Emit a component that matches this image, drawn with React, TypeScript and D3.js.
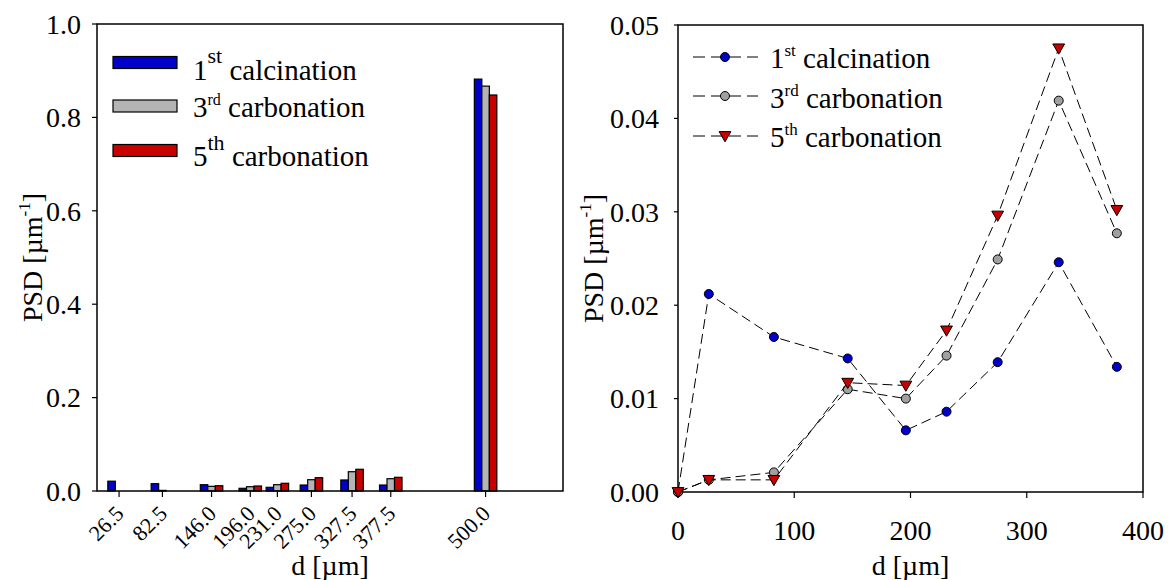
import * as d3 from "d3";

// particle size classes (µm)
const sizes = [26.5, 82.5, 146.0, 196.0, 231.0, 275.0, 327.5, 377.5, 500.0];
const barCalc1 = [0.021, 0.0157, 0.0135, 0.0058, 0.0079, 0.0128, 0.0236, 0.0128, 0.882];
const barCarb3 = [0.0, 0.0013, 0.01, 0.0092, 0.0135, 0.0242, 0.0413, 0.0263, 0.867];
const barCarb5 = [0.0, 0.0, 0.0113, 0.0107, 0.0165, 0.0285, 0.0465, 0.0293, 0.848];

// right panel
const dVals = [0, 26.5, 82.5, 146, 196, 231, 275, 327.5, 377.5];
const psdCalc1 = [0, 0.0212, 0.0166, 0.0143, 0.0066, 0.0086, 0.0139, 0.0246, 0.0134];
const psdCarb3 = [0, 0.0013, 0.0021, 0.011, 0.01, 0.0146, 0.0249, 0.0419, 0.0277];
const psdCarb5 = [0, 0.0013, 0.0013, 0.0117, 0.0114, 0.0173, 0.0296, 0.0475, 0.0302];

const leftTicks = [0, 0.2, 0.4, 0.6, 0.8, 1.0];
const rightYTicks = [0, 0.01, 0.02, 0.03, 0.04, 0.05];
const rightXTicks = [0, 100, 200, 300, 400];

const blue = "#0000c8";
const grey = "#b4b4b4";
const greyDot = "#a0a0a0";
const red = "#c80000";
const serif = { fontFamily: '"Liberation Serif"' };

const series = [
  { name: "1", sup: "st", rest: " calcination", bars: barCalc1, psd: psdCalc1, fill: blue, dot: blue, marker: "circle" },
  { name: "3", sup: "rd", rest: " carbonation", bars: barCarb3, psd: psdCarb3, fill: grey, dot: greyDot, marker: "circle" },
  { name: "5", sup: "th", rest: " carbonation", bars: barCarb5, psd: psdCarb5, fill: red, dot: red, marker: "triangle" },
];

const L = { left: 97, right: 563, top: 24, bottom: 491 };
const R = { left: 678, right: 1143, top: 25, bottom: 492 };

const triangle = d3.symbol(d3.symbolTriangle, 60)() as string;

const Marker = ({ kind, x, y, fill }) =>
  kind === "circle" ? (
    <circle cx={x} cy={y} r={4.5} fill={fill} stroke="#000" strokeWidth={1} />
  ) : (
    <path d={triangle} transform={`translate(${x},${y - 1}) rotate(180)`} fill={fill} stroke="#000" strokeWidth={1} />
  );

const YLabel = ({ x, y }) => (
  <text transform={`translate(${x},${y}) rotate(-90)`} textAnchor="middle" fontSize={28} style={serif}>
    PSD [µm
    <tspan fontSize={17} dy={-12}>-1</tspan>
    <tspan dy={12}>]</tspan>
  </text>
);

export default function App() {
  const xL = d3.scaleLinear().domain([-2, 600]).range([L.left, L.right]);
  const yL = d3.scaleLinear().domain([0, 1]).range([L.bottom, L.top]);
  const xR = d3.scaleLinear().domain([0, 400]).range([R.left, R.right]);
  const yR = d3.scaleLinear().domain([0, 0.05]).range([R.bottom, R.top]);
  const bw = 7.5;

  const line = d3
    .line<number>()
    .x((_, i) => xR(dVals[i]))
    .y((v) => yR(v));

  const legL = [
    { y: 62.5, base: 80, supSize: 22, supDy: -17 },
    { y: 106, base: 117, supSize: 16, supDy: -12 },
    { y: 150.5, base: 166, supSize: 22, supDy: -16 },
  ];
  const legR = [
    { y: 57, base: 68 },
    { y: 96, base: 108 },
    { y: 136, base: 147 },
  ];

  return (
    <svg width={1168} height={580} style={{ position: "absolute", left: 0, top: 0, background: "#fff" }}>
      {/* ---------- left panel: bars ---------- */}
      <g>
        {series.map((s, k) =>
          s.bars.map((v, i) => {
            const x0 = xL(sizes[i]) + (k - 1.5) * bw;
            return v > 0 ? (
              <rect
                key={`b${k}-${i}`}
                x={x0}
                y={yL(v)}
                width={bw}
                height={L.bottom - yL(v)}
                fill={s.fill}
                stroke="#000"
                strokeWidth={1.2}
              />
            ) : null;
          })
        )}
        <path
          d={`M${L.left},${L.bottom}V${L.top}H${L.right}V${L.bottom}Z`}
          fill="none"
          stroke="#000"
          strokeWidth={1.5}
        />
        {leftTicks.map((t) => (
          <g key={`ly${t}`}>
            <line x1={L.left - 5} x2={L.left} y1={yL(t)} y2={yL(t)} stroke="#000" strokeWidth={1.2} />
            <text x={81} y={yL(t)} dy="0.35em" textAnchor="end" fontSize={28} style={serif}>
              {t.toFixed(1)}
            </text>
          </g>
        ))}
        {sizes.map((s) => (
          <g key={`lx${s}`}>
            <line x1={xL(s)} x2={xL(s)} y1={L.bottom} y2={L.bottom + 6} stroke="#000" strokeWidth={1.2} />
            <text
              transform={`translate(${xL(s) + 6},${L.bottom + 24}) rotate(-45)`}
              textAnchor="end"
              fontSize={22}
              style={serif}
            >
              {s.toFixed(1)}
            </text>
          </g>
        ))}
        <YLabel x={42} y={(L.top + L.bottom) / 2} />
        <text x={(L.left + L.right) / 2} y={575} textAnchor="middle" fontSize={28} style={serif}>
          d [µm]
        </text>
        {series.map((s, k) => (
          <g key={`legL${k}`}>
            <rect x={113} y={legL[k].y - 6} width={64} height={12} fill={s.fill} stroke="#000" strokeWidth={1.2} />
            <text x={193} y={legL[k].base} fontSize={29} style={serif}>
              {s.name}
              <tspan fontSize={legL[k].supSize} dy={legL[k].supDy}>
                {s.sup}
              </tspan>
              <tspan dy={-legL[k].supDy}>{s.rest}</tspan>
            </text>
          </g>
        ))}
      </g>

      {/* ---------- right panel: lines ---------- */}
      <g>
        <path
          d={`M${R.left},${R.bottom}V${R.top}H${R.right}V${R.bottom}Z`}
          fill="none"
          stroke="#000"
          strokeWidth={1.5}
        />
        {rightYTicks.map((t) => (
          <g key={`ry${t}`}>
            <line x1={R.left - 4} x2={R.left} y1={yR(t)} y2={yR(t)} stroke="#000" strokeWidth={1.2} />
            <text x={659} y={yR(t)} dy="0.35em" textAnchor="end" fontSize={28} style={serif}>
              {t.toFixed(2)}
            </text>
          </g>
        ))}
        {rightXTicks.map((t) => (
          <g key={`rx${t}`}>
            <line x1={xR(t)} x2={xR(t)} y1={R.bottom} y2={R.bottom + 6} stroke="#000" strokeWidth={1.2} />
            <text x={xR(t)} y={540} textAnchor="middle" fontSize={28} style={serif}>
              {t}
            </text>
          </g>
        ))}
        <YLabel x={603} y={(R.top + R.bottom) / 2} />
        <text x={(R.left + R.right) / 2} y={575} textAnchor="middle" fontSize={28} style={serif}>
          d [µm]
        </text>
        {series.map((s, k) => (
          <g key={`ser${k}`}>
            <path d={line(s.psd) as string} fill="none" stroke="#000" strokeWidth={1} strokeDasharray="10 5" />
            {s.psd.map((v, i) => (
              <Marker key={i} kind={s.marker} x={xR(dVals[i])} y={yR(v)} fill={s.dot} />
            ))}
          </g>
        ))}
        {series.map((s, k) => (
          <g key={`legR${k}`}>
            <line x1={693} x2={758} y1={legR[k].y} y2={legR[k].y} stroke="#000" strokeWidth={1} strokeDasharray="12 6" />
            <Marker kind={s.marker} x={725} y={legR[k].y} fill={s.dot} />
            <text x={770} y={legR[k].base} fontSize={29} style={serif}>
              {s.name}
              <tspan fontSize={17} dy={-12}>
                {s.sup}
              </tspan>
              <tspan dy={12}>{s.rest}</tspan>
            </text>
          </g>
        ))}
      </g>
    </svg>
  );
}
